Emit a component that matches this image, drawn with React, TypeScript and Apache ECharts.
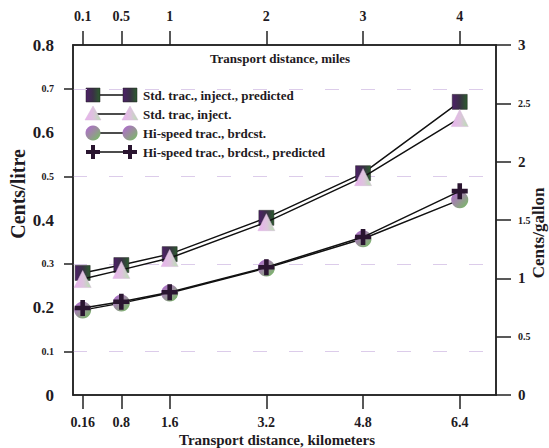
import React, { useEffect, useRef } from "react";
import * as echarts from "echarts";

const KM = [0.16, 0.8, 1.6, 3.2, 4.8, 6.4];
const KM_TICKS = [0.16, 0.8, 1.6, 3.2, 4.8, 6.4];
const MILE_TICKS = [0.1, 0.5, 1, 2, 3, 4];
const LITRE_ODD_TICKS = [0.1, 0.3, 0.5, 0.7];

const stdPredicted = [0.279, 0.297, 0.322, 0.405, 0.507, 0.67];
const stdInject = [0.265, 0.286, 0.313, 0.395, 0.498, 0.633];
const hiBrdcst = [0.194, 0.21, 0.233, 0.29, 0.357, 0.446];
const hiPredicted = [0.199, 0.213, 0.235, 0.292, 0.361, 0.466];

const NAMES = [
  "Std. trac., inject., predicted",
  "Std. trac, inject.",
  "Hi-speed trac., brdcst.",
  "Hi-speed trac., brdcst., predicted",
];

const FONT = "'Liberation Serif', 'Times New Roman', serif";
const INK = "#1e1a22";
const CROSS = "path://M5,0H9V5H14V9H9V14H5V9H0V5H5Z";

const sqFill = () =>
  new echarts.graphic.LinearGradient(0, 0, 1, 0, [
    { offset: 0, color: "#4d2068" },
    { offset: 0.5, color: "#3a3046" },
    { offset: 1, color: "#2c5c2e" },
  ]);
const triFill = () =>
  new echarts.graphic.LinearGradient(0, 0, 1, 0, [
    { offset: 0, color: "#eab0ef" },
    { offset: 0.55, color: "#dcc4dc" },
    { offset: 1, color: "#b6e2ae" },
  ]);
const circFill = () =>
  new echarts.graphic.LinearGradient(0, 0, 1, 1, [
    { offset: 0, color: "#b266d6" },
    { offset: 0.5, color: "#9a8f9c" },
    { offset: 1, color: "#72c25c" },
  ]);

function pairs(vals: number[]) {
  return KM.map((k, i) => [k, vals[i]]);
}

const AXIS_LINE = { show: true, onZero: false, lineStyle: { color: "#222", width: 1.5 } };

export default function App() {
  const ref = useRef<HTMLDivElement>(null);
  useEffect(() => {
    if (!ref.current) return;
    const chart = echarts.init(ref.current, null, { renderer: "svg" });

    const rowY = [95, 114, 133, 152];
    const x1 = 93;
    const x2 = 130;
    const legendChildren: any[] = [];
    rowY.forEach((y, i) => {
      legendChildren.push({
        type: "line",
        shape: { x1, y1: y, x2, y2: y },
        style: { stroke: "#111", lineWidth: 1.5 },
      });
      [x1, x2].forEach((cx) => {
        if (i === 0) {
          legendChildren.push({
            type: "rect",
            shape: { x: cx - 7, y: y - 7, width: 14, height: 14 },
            style: { fill: sqFill(), stroke: "#222", lineWidth: 0.5 },
          });
        } else if (i === 1) {
          legendChildren.push({
            type: "polygon",
            shape: { points: [[cx, y - 8], [cx + 8, y + 6], [cx - 8, y + 6]] },
            style: { fill: triFill(), stroke: "#d8b8dc", lineWidth: 0.5 },
          });
        } else if (i === 2) {
          legendChildren.push({
            type: "circle",
            shape: { cx, cy: y, r: 7.5 },
            style: { fill: circFill() },
          });
        } else {
          legendChildren.push({
            type: "rect",
            shape: { x: cx - 7, y: y - 2, width: 14, height: 4 },
            style: { fill: "#2a1530" },
          });
          legendChildren.push({
            type: "rect",
            shape: { x: cx - 2, y: y - 7, width: 4, height: 14 },
            style: { fill: "#2a1530" },
          });
        }
      });
      legendChildren.push({
        type: "text",
        x: 143,
        y,
        style: {
          text: NAMES[i],
          font: `bold 13px ${FONT}`,
          fill: INK,
          verticalAlign: "middle",
        },
      });
    });

    const lineStyle = { color: "#111", width: 1.5 };

    chart.setOption({
      animation: false,
      backgroundColor: "#ffffff",
      grid: {
        left: 73,
        right: 53,
        top: 45,
        bottom: 53,
        show: true,
        borderColor: "#222",
        borderWidth: 1.5,
        backgroundColor: "transparent",
      },
      xAxis: [
        {
          type: "value",
          position: "bottom",
          min: 0,
          max: 7,
          axisLine: AXIS_LINE,
          axisTick: {
            show: true,
            customValues: KM_TICKS,
            length: 14,
            lineStyle: { color: "#222", width: 1.5 },
          },
          axisLabel: {
            customValues: KM_TICKS,
            margin: 20,
            fontFamily: FONT,
            fontWeight: "bold",
            fontSize: 14,
            color: INK,
          },
          splitLine: { show: false },
        },
        {
          type: "value",
          position: "top",
          min: 0,
          max: 7 / 1.6,
          axisLine: AXIS_LINE,
          axisTick: {
            show: true,
            customValues: MILE_TICKS,
            length: 14,
            lineStyle: { color: "#222", width: 1.5 },
          },
          axisLabel: {
            customValues: MILE_TICKS,
            margin: 22,
            fontFamily: FONT,
            fontWeight: "bold",
            fontSize: 14,
            color: INK,
          },
          splitLine: { show: false },
        },
      ],
      yAxis: [
        {
          type: "value",
          position: "left",
          min: 0,
          max: 0.8,
          interval: 0.1,
          axisLine: AXIS_LINE,
          axisTick: {
            show: true,
            customValues: LITRE_ODD_TICKS,
            length: 9,
            lineStyle: { color: "#222", width: 1.5 },
          },
          axisLabel: {
            margin: 19,
            formatter: (v: number) => {
              const t = String(Number(v.toFixed(1)));
              return Math.round(v * 10) % 2 === 0 ? `{b|${t}}` : `{s|${t}}`;
            },
            rich: {
              b: { fontFamily: FONT, fontWeight: "bold", fontSize: 17, color: INK },
              s: { fontFamily: FONT, fontWeight: "bold", fontSize: 10, color: INK },
            },
          },
          splitLine: {
            show: true,
            lineStyle: { color: "#dcccea", type: [14, 22], width: 1 },
          },
        },
        {
          type: "value",
          position: "right",
          min: 0,
          max: 3,
          interval: 0.5,
          axisLine: AXIS_LINE,
          axisTick: {
            show: true,
            length: 15,
            lineStyle: { color: "#222", width: 1.5 },
          },
          axisLabel: {
            margin: 22,
            formatter: (v: number) =>
              Number.isInteger(v) ? `{b|${v}}` : `{s|${v}}`,
            rich: {
              b: { fontFamily: FONT, fontWeight: "bold", fontSize: 15, color: INK },
              s: { fontFamily: FONT, fontWeight: "bold", fontSize: 10, color: INK },
            },
          },
          splitLine: { show: false },
        },
      ],
      series: [
        {
          name: NAMES[0],
          type: "line",
          data: pairs(stdPredicted),
          symbol: "rect",
          symbolSize: 15,
          lineStyle,
          itemStyle: { color: sqFill(), borderColor: "#222", borderWidth: 0.5 },
          z: 3,
        },
        {
          name: NAMES[1],
          type: "line",
          data: pairs(stdInject),
          symbol: "triangle",
          symbolSize: 17,
          lineStyle,
          itemStyle: { color: triFill(), borderColor: "#d8b8dc", borderWidth: 0.5 },
          z: 4,
        },
        {
          name: NAMES[2],
          type: "line",
          data: pairs(hiBrdcst),
          symbol: "circle",
          symbolSize: 17,
          lineStyle,
          itemStyle: { color: circFill(), borderWidth: 0 },
          z: 3,
        },
        {
          name: NAMES[3],
          type: "line",
          data: pairs(hiPredicted),
          symbol: CROSS,
          symbolSize: 16,
          lineStyle,
          itemStyle: { color: "#2a1530", borderWidth: 0 },
          z: 4,
        },
      ],
      graphic: [
        { type: "group", children: legendChildren },
        {
          type: "text",
          x: 280,
          y: 58,
          style: {
            text: "Transport distance, miles",
            font: `bold 13px ${FONT}`,
            fill: INK,
            align: "center",
            verticalAlign: "middle",
          },
        },
        {
          type: "text",
          x: 277,
          y: 440,
          style: {
            text: "Transport distance, kilometers",
            font: `bold 15px ${FONT}`,
            fill: INK,
            align: "center",
            verticalAlign: "middle",
          },
        },
        {
          type: "text",
          x: 18,
          y: 194,
          rotation: Math.PI / 2,
          style: {
            text: "Cents/litre",
            font: `bold 20px ${FONT}`,
            fill: INK,
            align: "center",
            verticalAlign: "middle",
          },
        },
        {
          type: "text",
          x: 538,
          y: 233,
          rotation: Math.PI / 2,
          style: {
            text: "Cents/gallon",
            font: `bold 17px ${FONT}`,
            fill: INK,
            align: "center",
            verticalAlign: "middle",
          },
        },
      ],
    });
    return () => chart.dispose();
  }, []);
  return (
    <div
      ref={ref}
      style={{ position: "fixed", left: 0, top: 0, width: 549, height: 448 }}
    />
  );
}
